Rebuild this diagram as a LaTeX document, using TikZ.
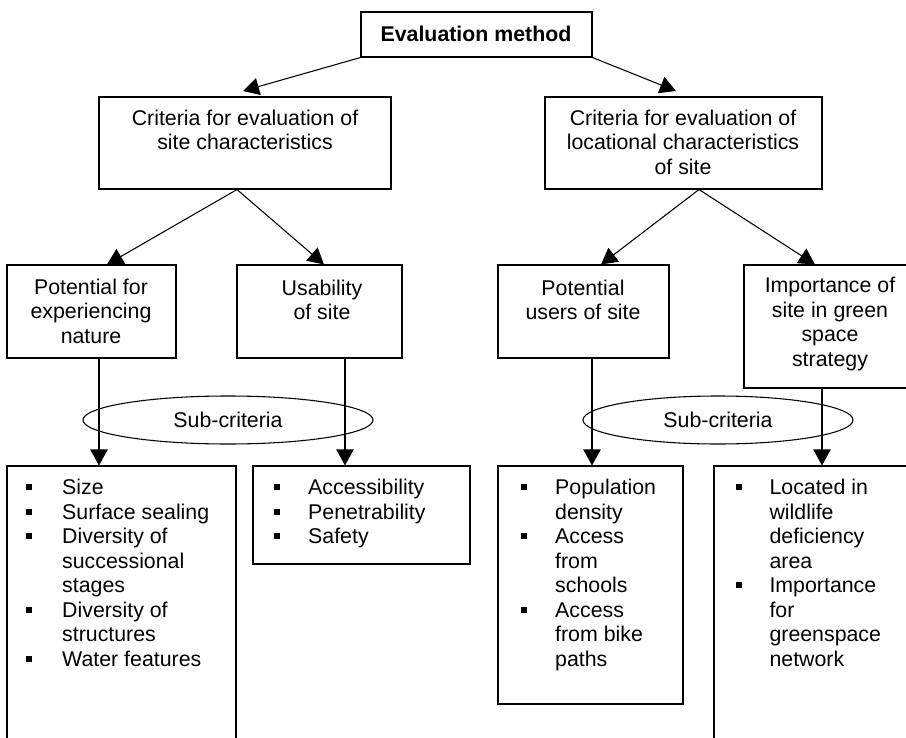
\documentclass[tikz,border=0pt]{standalone}
\usepackage{fontspec}
\setmainfont{Liberation Sans}
\usetikzlibrary{arrows.meta,shapes.geometric,fit}
\newcommand\sqb{\rule[3.5pt]{4.5pt}{4.5pt}}
\begin{document}
\begin{tikzpicture}[x=0.75pt,y=-0.75pt,
  line width=0.8pt,
  box/.style={draw, rectangle, inner sep=0pt},
  lbl/.style={align=center, inner sep=0pt, font=\fontsize{16}{18.4}\selectfont},
  arr/.style={-{Triangle[width=13pt,length=12pt]}},
  subc/.style={draw, ellipse, inner sep=0pt, minimum height=36pt, font=\fontsize{16}{18.4}\selectfont},
  lst/.style={anchor=north west, inner sep=0pt, align=left, font=\fontsize{16}{18.4}\selectfont}]
\path[fill=white] (0,0) rectangle (906,738);
\useasboundingbox (0,0) rectangle (906,738);
\clip (0,0) rectangle (906,738);

% boxes
\node[box, fit={(361,12) (592,57)}] (top) {};
\node[lbl, font=\fontsize{16}{18.4}\selectfont\bfseries] (toptxt) at (476,34) {Evaluation method};

\node[box, fit={(99,97) (391,189)}] (crit1) {};
\node[lbl] (crit1txt) at (245,130) {Criteria for evaluation of\\site characteristics};
\node[box, fit={(545,97) (822,189)}] (crit2) {};
\node[lbl] (crit2txt) at (683,142) {Criteria for evaluation of\\locational characteristics\\of site};

\node[box, fit={(7,265) (176,358)}] (pot) {};
\node[lbl] (pottxt) at (91,311) {Potential for\\experiencing\\nature};
\node[box, fit={(237,265) (402,358)}] (usa) {};
\node[lbl] (usatxt) at (322,300) {Usability\\of site};
\node[box, fit={(498,265) (669,358)}] (users) {};
\node[lbl] (userstxt) at (583,300) {Potential\\users of site};
\node[box, fit={(744,265) (916,388)}] (imp) {};
\node[lbl] (imptxt) at (830,324) {Importance of\\site in green\\space\\strategy};

\node[box, fit={(7,466) (236,760)}] (b1) {};
\node[box, fit={(253,466) (470,564)}] (b2) {};
\node[box, fit={(498,466) (683,704)}] (b3) {};
\node[box, fit={(714,466) (920,760)}] (b4) {};

% lists
\node[lst] (l1) at (25,477) {\begin{tabular}{@{}p{27.5pt}@{}l@{}}
\sqb & Size\\
\sqb & Surface sealing\\
\sqb & Diversity of\\
 & successional\\
 & stages\\
\sqb & Diversity of\\
 & structures\\
\sqb & Water features
\end{tabular}};
\node[lst] (l2) at (273,477) {\begin{tabular}{@{}p{26pt}@{}l@{}}
\sqb & Accessibility\\
\sqb & Penetrability\\
\sqb & Safety
\end{tabular}};
\node[lst] (l3) at (520,477) {\begin{tabular}{@{}p{26pt}@{}l@{}}
\sqb & Population\\
 & density\\
\sqb & Access\\
 & from\\
 & schools\\
\sqb & Access\\
 & from bike\\
 & paths
\end{tabular}};
\node[lst] (l4) at (735,477) {\begin{tabular}{@{}p{25.5pt}@{}l@{}}
\sqb & Located in\\
 & wildlife\\
 & deficiency\\
 & area\\
\sqb & Importance\\
 & for\\
 & greenspace\\
 & network
\end{tabular}};

% ellipses
\node[subc, minimum width=217.5pt] (e1) at (228,420) {Sub-criteria};
\node[subc, minimum width=202.5pt] (e2) at (718,420) {Sub-criteria};

% helper coordinates
\coordinate (a1) at (243,91);
\coordinate (a2) at (676,91);
\coordinate (c1) at (237,0);
\coordinate (c2) at (699,0);
\coordinate (t1) at (107,0);
\coordinate (t2) at (324,0);
\coordinate (t3) at (601,0);
\coordinate (t4) at (815,0);
\coordinate (v1) at (99,0);
\coordinate (v2) at (345,0);
\coordinate (v3) at (592,0);
\coordinate (v4) at (822,0);

% connectors
\draw[arr] (top.south west) -- (a1);
\draw[arr] (top.south east) -- (a2);
\draw[arr] (crit1.south -| c1) -- (pot.north -| t1);
\draw[arr] (crit1.south -| c1) -- (usa.north -| t2);
\draw[arr] (crit2.south -| c2) -- (users.north -| t3);
\draw[arr] (crit2.south -| c2) -- (imp.north -| t4);
\draw[arr] (pot.south -| v1) -- (b1.north -| v1);
\draw[arr] (usa.south -| v2) -- (b2.north -| v2);
\draw[arr] (users.south -| v3) -- (b3.north -| v3);
\draw[arr] (imp.south -| v4) -- (b4.north -| v4);
\end{tikzpicture}
\end{document}
